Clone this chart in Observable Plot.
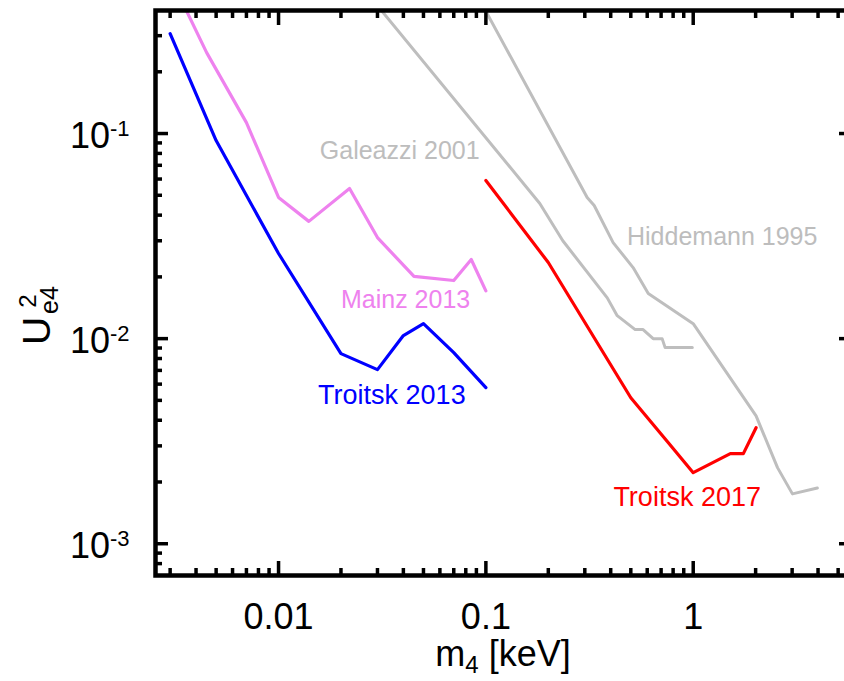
<!DOCTYPE html>
<html><head><meta charset="utf-8">
<script src="https://cdn.jsdelivr.net/npm/d3@7"></script>
<script src="https://cdn.jsdelivr.net/npm/@observablehq/plot@0.6"></script>
<style>
body{margin:0;background:#fff;overflow:hidden}
</style>
</head><body><div id="chart"></div>
<script>
// ---- data (m4 in keV, U^2_e4) ----
const troitsk2013M = [0.003, 0.005, 0.01, 0.02, 0.03, 0.04, 0.05, 0.07, 0.1];
const troitsk2013U = [0.307, 0.0924, 0.026, 0.00845, 0.00706, 0.01035, 0.01183, 0.00855, 0.00577];

const mainz2013M = [0.0035, 0.0045, 0.007, 0.01, 0.014, 0.022, 0.03, 0.045, 0.07, 0.085, 0.1];
const mainz2013U = [0.42, 0.248, 0.113, 0.0488, 0.0373, 0.054, 0.0311, 0.0201, 0.0192, 0.0243, 0.0171];

const galeazziM = [0.03, 0.182, 0.235, 0.385, 0.43, 0.525, 0.573, 0.641, 0.708, 0.732, 0.99];
const galeazziU = [0.42, 0.0456, 0.030, 0.0158, 0.01294, 0.01107, 0.01107, 0.0100, 0.0100, 0.00904, 0.00904];

const hiddemannM = [0.09, 0.308, 0.333, 0.411, 0.513, 0.607, 1.0, 2.01, 2.55, 3.01, 3.97];
const hiddemannU = [0.48, 0.0488, 0.0446, 0.0294, 0.0222, 0.0166, 0.01183, 0.0042, 0.00235, 0.00175, 0.00187];

const troitsk2017M = [0.1, 0.2, 0.5, 0.75, 1.0, 1.51, 1.745, 2.01];
const troitsk2017U = [0.059, 0.0235, 0.00515, 0.00315, 0.00222, 0.00275, 0.00275, 0.00368];

const seriesNames = ["Hiddemann 1995", "Galeazzi 2001", "Mainz 2013", "Troitsk 2013", "Troitsk 2017"];
const seriesColors = ["#bebebe", "#bebebe", "#ee82ee", "#0000ff", "#ff0000"];
const seriesWidths = [3, 3, 3.2, 3.2, 3.2];

// series labels
const labelText = ["Galeazzi 2001", "Hiddemann 1995", "Mainz 2013", "Troitsk 2013", "Troitsk 2017"];
const labelM = [0.0384, 1.38, 0.041, 0.0352, 0.935];
const labelU = [0.0755, 0.0285, 0.01416, 0.00482, 0.00153];
const labelColor = ["#bdbdbd", "#bdbdbd", "#ee82ee", "#0000ff", "#ff0000"];
const labelSize = [25, 25, 25, 27, 27];

// ticks
const xMajor = [0.01, 0.1, 1];
const xMajorLabels = ["0.01", "0.1", "1"];
const yMajor = [0.001, 0.01, 0.1];
const yMajorLabels = ["10^-3", "10^-2", "10^-1"];
const xDomain = [0.00255, 5.8];
const yDomain = [0.0007, 0.398];

function minorTicks(lo, hi, kmin, kmax) {
  const out = [];
  for (let k = kmin; k <= kmax; k++) for (let m = 2; m <= 9; m++) {
    const v = m * Math.pow(10, k);
    if (v > lo && v < hi) out.push(v);
  }
  return out;
}
const xMinor = minorTicks(xDomain[0], xDomain[1], -3, 0);
const yMinor = minorTicks(yDomain[0] * 1.0001, yDomain[1], -4, -1);

const seriesM = [hiddemannM, galeazziM, mainz2013M, troitsk2013M, troitsk2017M];
const seriesU = [hiddemannU, galeazziU, mainz2013U, troitsk2013U, troitsk2017U];
const rows = [];
seriesNames.forEach((s, i) => seriesM[i].forEach((m, j) => rows.push({series: s, m, u: seriesU[i][j]})));
const labels = labelText.map((t, i) => ({t, m: labelM[i], u: labelU[i], c: labelColor[i], s: labelSize[i]}));

const xFmt = new Map(xMajor.map((v, i) => [v, xMajorLabels[i]]));
const yFmt = new Map(yMajor.map((v, i) => [v, yMajorLabels[i]]));

const tickW = 3.5;
const marks = [];
seriesNames.forEach((s, i) => {
  marks.push(Plot.line(rows.filter(r => r.series === s), {x: "m", y: "u", stroke: seriesColors[i], strokeWidth: seriesWidths[i], clip: true}));
});
labelSize.forEach((sz, i) => {
  marks.push(Plot.text([labels[i]], {x: "m", y: "u", text: "t", fill: "c", fontSize: sz, lineAnchor: "bottom", textAnchor: "middle"}));
});
// inward ticks on all four sides
for (const anchor of ["bottom", "top"]) {
  marks.push(Plot.axisX({anchor, ticks: xMajor, tickSize: -14, fill: "none", strokeWidth: tickW, label: null}));
  marks.push(Plot.axisX({anchor, ticks: xMinor, tickSize: -7, fill: "none", strokeWidth: tickW, label: null}));
}
for (const anchor of ["left", "right"]) {
  marks.push(Plot.axisY({anchor, ticks: yMajor, tickSize: -13, fill: "none", strokeWidth: tickW, label: null}));
  marks.push(Plot.axisY({anchor, ticks: yMinor, tickSize: -7, fill: "none", strokeWidth: tickW, label: null}));
}
marks.push(Plot.axisX({anchor: "bottom", ticks: xMajor, tickSize: 0, tickPadding: 28, tickFormat: d => xFmt.get(d), fontSize: 36, label: null}));
marks.push(Plot.axisY({anchor: "left", ticks: yMajor, tickSize: 0, tickPadding: 26, tickFormat: d => yFmt.get(d), fontSize: 36, label: null, dy: 3}));
marks.push(Plot.frame({strokeWidth: 4.5, stroke: "black"}));

const plot = Plot.plot({
  width: 844,
  height: 681,
  marginLeft: 155,
  marginRight: -7,
  marginTop: 10,
  marginBottom: 106,
  style: {fontFamily: "'Liberation Sans', Arial, Helvetica, sans-serif", background: "white", color: "black"},
  x: {type: "log", domain: xDomain},
  y: {type: "log", domain: yDomain},
  marks
});
document.getElementById("chart").appendChild(plot);

// superscript exponents on y tick labels
const svg = d3.select(plot);
svg.selectAll('g[aria-label="y-axis tick label"] text').each(function() {
  const el = d3.select(this);
  const [base, exp] = el.text().split("^");
  if (exp === undefined) return;
  el.text(base);
  el.append("tspan").attr("font-size", 22).attr("dy", "-0.55em").text(exp);
});

// axis titles with sub/superscripts
const xl = svg.append("text").attr("x", 503).attr("y", 666).attr("text-anchor", "middle")
  .attr("font-size", 36).attr("fill", "black");
xl.append("tspan").text("m");
xl.append("tspan").attr("font-size", 24).attr("dy", 7).text("4");
xl.append("tspan").attr("dy", -7).text(" [keV]");

const yl = svg.append("g").attr("transform", "translate(50,331) rotate(-90)").attr("fill", "black");
yl.append("text").attr("x", 0).attr("y", 0).attr("font-size", 39).text("U");
yl.append("text").attr("x", 30).attr("y", -14).attr("font-size", 24).text("2");
yl.append("text").attr("x", 31).attr("y", 8).attr("font-size", 25).text("e4");
</script>
</body></html>
